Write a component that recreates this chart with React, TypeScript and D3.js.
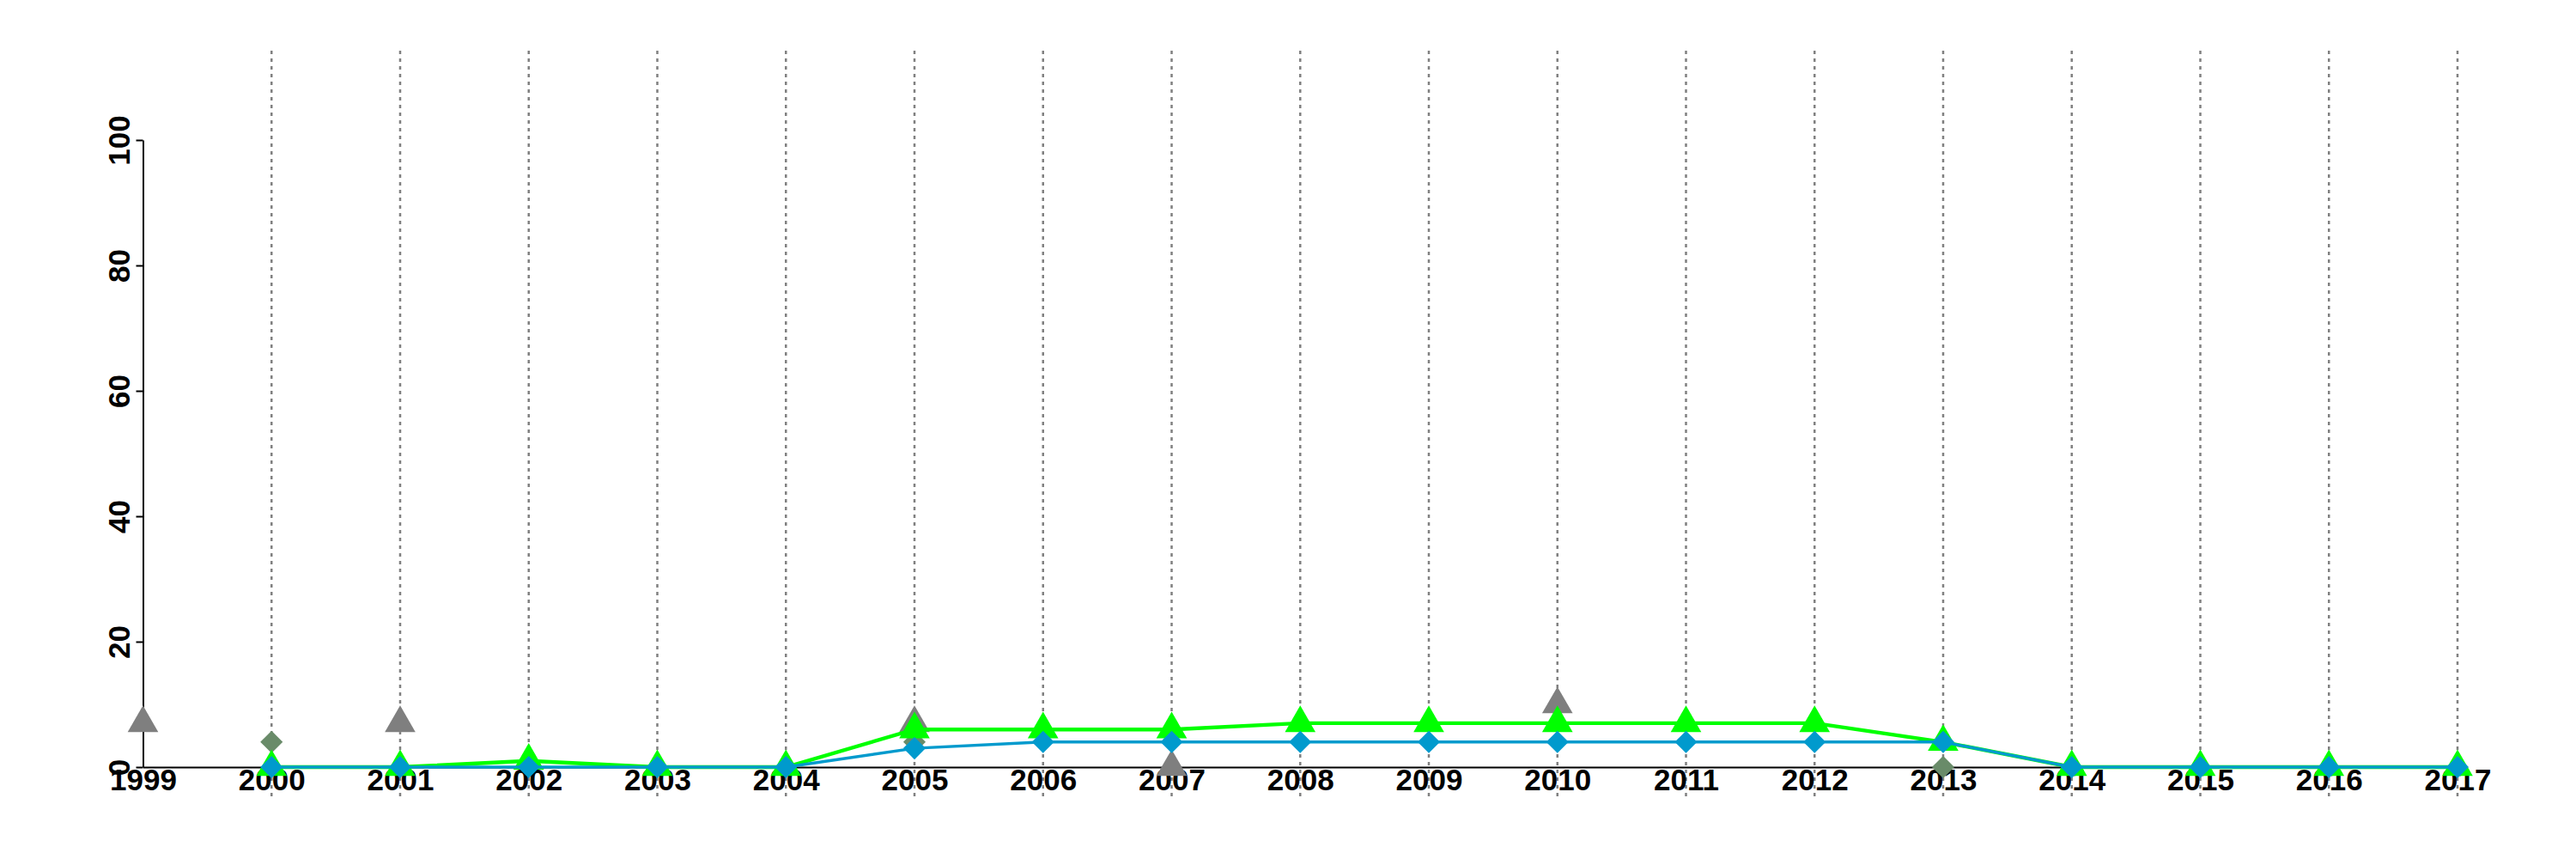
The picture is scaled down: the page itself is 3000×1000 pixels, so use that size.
import React, { useEffect, useRef } from 'react';
import * as d3 from 'd3';

const years = [1999, 2000, 2001, 2002, 2003, 2004, 2005, 2006, 2007, 2008, 2009, 2010, 2011, 2012, 2013, 2014, 2015, 2016, 2017];
const gridYears = [2000, 2001, 2002, 2003, 2004, 2005, 2006, 2007, 2008, 2009, 2010, 2011, 2012, 2013, 2014, 2015, 2016, 2017];
const yTicks = [0, 20, 40, 60, 80, 100];

// series with lines
const greenValues = [null, 0, 0, 1, 0, 0, 6, 6, 6, 7, 7, 7, 7, 7, 4, 0, 0, 0, 0];
const blueValues = [null, 0, 0, 0, 0, 0, 3, 4, 4, 4, 4, 4, 4, 4, 4, 0, 0, 0, 0];
// points only
const grayTriangleValues = [7, null, 7, null, null, null, 7, null, 0, null, null, 10, null, null, null, null, null, null, null];
const darkDiamondValues = [null, 4, null, null, null, null, 4, null, null, null, null, null, null, null, 0, null, null, null, null];

interface Point {
  year: number;
  value: number;
}

const toPoints = (values: (number | null)[]): Point[] =>
  years
    .map((year, i) => ({ year, value: values[i] }))
    .filter(d => d.value !== null) as Point[];

const App: React.FC = () => {
  const svgRef = useRef<SVGSVGElement>(null);
  const width = 3000;
  const height = 1000;

  useEffect(() => {
    if (!svgRef.current) return;
    const svg = d3.select(svgRef.current);
    svg.selectAll("*").remove();

    const font = '"Liberation Sans", Arial, Helvetica, sans-serif';

    const x = d3.scaleLinear().domain([1999, 2017]).range([166.5, 2862]);
    const y = d3.scaleLinear().domain([0, 100]).range([893, 163]);

    // dotted vertical grid
    svg.append("g")
      .selectAll("line")
      .data(gridYears)
      .join("line")
      .attr("x1", d => x(d))
      .attr("x2", d => x(d))
      .attr("y1", 59)
      .attr("y2", 928)
      .attr("stroke", "#808080")
      .attr("stroke-width", 2.5)
      .attr("stroke-dasharray", "4,5");

    // x axis
    const xAxis = svg.append("g")
      .attr("transform", `translate(0,${y(0)})`)
      .call(d3.axisBottom(x).tickValues(years).tickFormat(d3.format("d")).tickSize(0));
    xAxis.select(".domain").attr("stroke", "#000").attr("stroke-width", 2);
    xAxis.selectAll("text")
      .attr("y", 27)
      .attr("dy", 0)
      .attr("fill", "#000")
      .style("font-family", font)
      .style("font-size", "35px")
      .style("font-weight", "bold");

    // y axis
    const yAxis = svg.append("g")
      .attr("transform", `translate(${x(1999)},0)`)
      .call(d3.axisLeft(y).tickValues(yTicks).tickSize(8).tickSizeOuter(0));
    yAxis.select(".domain").attr("stroke", "#000").attr("stroke-width", 2);
    yAxis.selectAll(".tick line").attr("stroke", "#000").attr("stroke-width", 2);
    yAxis.selectAll("text")
      .attr("transform", "rotate(-90)")
      .attr("x", 0)
      .attr("y", -16)
      .attr("dy", 0)
      .attr("text-anchor", "middle")
      .attr("fill", "#000")
      .style("font-family", font)
      .style("font-size", "35px")
      .style("font-weight", "bold");

    const triangle = d3.symbol(d3.symbolTriangle, 550);
    const diamond = d3.symbol(d3.symbolSquare, 340);

    // gray triangles
    svg.append("g")
      .selectAll("path")
      .data(toPoints(grayTriangleValues))
      .join("path")
      .attr("d", triangle)
      .attr("transform", d => `translate(${x(d.year)},${y(d.value)})`)
      .attr("fill", "#7F7F7F");

    // dark sea green diamonds
    svg.append("g")
      .selectAll("path")
      .data(toPoints(darkDiamondValues))
      .join("path")
      .attr("d", diamond)
      .attr("transform", d => `translate(${x(d.year)},${y(d.value)}) rotate(45)`)
      .attr("fill", "#698B69");

    const line = d3.line<Point>()
      .x(d => x(d.year))
      .y(d => y(d.value));

    // green series
    const green = toPoints(greenValues);
    svg.append("path")
      .datum(green)
      .attr("fill", "none")
      .attr("stroke", "#00FF00")
      .attr("stroke-width", 4.4)
      .attr("d", line);
    svg.append("g")
      .selectAll("path")
      .data(green)
      .join("path")
      .attr("d", triangle)
      .attr("transform", d => `translate(${x(d.year)},${y(d.value)})`)
      .attr("fill", "#00FF00");

    // blue series
    const blue = toPoints(blueValues);
    svg.append("path")
      .datum(blue)
      .attr("fill", "none")
      .attr("stroke", "#009ACD")
      .attr("stroke-width", 3.4)
      .attr("d", line);
    svg.append("g")
      .selectAll("path")
      .data(blue)
      .join("path")
      .attr("d", diamond)
      .attr("transform", d => `translate(${x(d.year)},${y(d.value)}) rotate(45)`)
      .attr("fill", "#009ACD");
  }, []);

  return (
    <div style={{ position: "absolute", left: 0, top: 0, background: "#fff" }}>
      <svg ref={svgRef} width={width} height={height} viewBox={`0 0 ${width} ${height}`} />
    </div>
  );
};

export default App;
